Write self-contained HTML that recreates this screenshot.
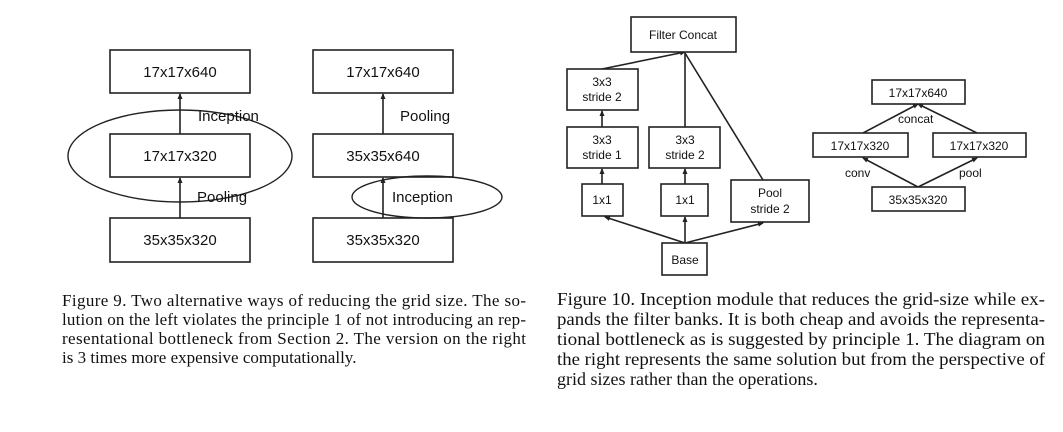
<!DOCTYPE html>
<html><head><meta charset="utf-8"><style>
body{margin:0;background:#fff;}
svg{display:block}
.s{font-family:"Liberation Sans",sans-serif;font-size:15px;fill:#111}
.m{font-family:"Liberation Sans",sans-serif;font-size:12px;fill:#111}
.c{font-family:"Liberation Serif",serif;font-size:17px;fill:#111}
.d{font-family:"Liberation Serif",serif;font-size:18px;fill:#111}
rect{fill:#fff;stroke:#222;stroke-width:1.6}
line{stroke:#222;stroke-width:1.6}
ellipse{fill:none;stroke:#222;stroke-width:1.4}
</style></head><body>
<svg width="1063" height="432" viewBox="0 0 1063 432">
<defs><marker id="a" markerWidth="6" markerHeight="6" refX="5" refY="3" orient="auto" markerUnits="userSpaceOnUse"><path d="M0,0.5 L6,3 L0,5.5z" fill="#222"/></marker></defs>
<rect x="110" y="50" width="140" height="43"/>
<rect x="110" y="134" width="140" height="43"/>
<rect x="110" y="218" width="140" height="44"/>
<line x1="180" y1="134" x2="180" y2="94" marker-end="url(#a)"/>
<line x1="180" y1="218" x2="180" y2="178" marker-end="url(#a)"/>
<ellipse cx="180" cy="156" rx="112" ry="46"/>
<text class="s" x="180" y="77" text-anchor="middle">17x17x640</text>
<text class="s" x="180" y="161" text-anchor="middle">17x17x320</text>
<text class="s" x="180" y="245" text-anchor="middle">35x35x320</text>
<text class="s" x="198" y="121">Inception</text>
<text class="s" x="197" y="202">Pooling</text>
<rect x="313" y="50" width="140" height="43"/>
<rect x="313" y="134" width="140" height="43"/>
<rect x="313" y="218" width="140" height="44"/>
<line x1="383" y1="134" x2="383" y2="94" marker-end="url(#a)"/>
<line x1="383" y1="218" x2="383" y2="178" marker-end="url(#a)"/>
<ellipse cx="427" cy="197" rx="75" ry="21"/>
<text class="s" x="383" y="77" text-anchor="middle">17x17x640</text>
<text class="s" x="383" y="161" text-anchor="middle">35x35x640</text>
<text class="s" x="383" y="245" text-anchor="middle">35x35x320</text>
<text class="s" x="400" y="121">Pooling</text>
<text class="s" x="392" y="202">Inception</text>
<line x1="602" y1="69" x2="685" y2="52" marker-end="url(#a)"/>
<line x1="685" y1="127" x2="685" y2="53"/>
<line x1="763" y1="180" x2="685" y2="53"/>
<line x1="602" y1="127" x2="602" y2="111" marker-end="url(#a)"/>
<line x1="602" y1="184" x2="602" y2="169" marker-end="url(#a)"/>
<line x1="685" y1="184" x2="685" y2="169" marker-end="url(#a)"/>
<line x1="685" y1="243" x2="605" y2="217" marker-end="url(#a)"/>
<line x1="685" y1="243" x2="685" y2="217" marker-end="url(#a)"/>
<line x1="685" y1="243" x2="763" y2="223" marker-end="url(#a)"/>
<rect x="631" y="17" width="105" height="35"/>
<rect x="567" y="69" width="71" height="41"/>
<rect x="567" y="127" width="71" height="41"/>
<rect x="649" y="127" width="71" height="41"/>
<rect x="582" y="184" width="41" height="32"/>
<rect x="661" y="184" width="47" height="32"/>
<rect x="731" y="180" width="78" height="42"/>
<rect x="662" y="243" width="45" height="32"/>
<text class="m" x="683" y="39" text-anchor="middle">Filter Concat</text>
<text class="m" x="602" y="86" text-anchor="middle">3x3</text>
<text class="m" x="602" y="101" text-anchor="middle">stride 2</text>
<text class="m" x="602" y="144" text-anchor="middle">3x3</text>
<text class="m" x="602" y="159" text-anchor="middle">stride 1</text>
<text class="m" x="685" y="144" text-anchor="middle">3x3</text>
<text class="m" x="685" y="159" text-anchor="middle">stride 2</text>
<text class="m" x="602" y="204" text-anchor="middle">1x1</text>
<text class="m" x="685" y="204" text-anchor="middle">1x1</text>
<text class="m" x="770" y="197" text-anchor="middle">Pool</text>
<text class="m" x="770" y="213" text-anchor="middle">stride 2</text>
<text class="m" x="685" y="264" text-anchor="middle">Base</text>
<line x1="863" y1="133" x2="918" y2="104" marker-end="url(#a)"/>
<line x1="977" y1="133" x2="918" y2="104" marker-end="url(#a)"/>
<line x1="918" y1="187" x2="863" y2="158" marker-end="url(#a)"/>
<line x1="918" y1="187" x2="977" y2="158" marker-end="url(#a)"/>
<rect x="872" y="80" width="93" height="24"/>
<rect x="813" y="133" width="95" height="24"/>
<rect x="933" y="133" width="93" height="24"/>
<rect x="872" y="187" width="93" height="24"/>
<text class="m" x="918" y="97" text-anchor="middle">17x17x640</text>
<text class="m" x="860" y="150" text-anchor="middle">17x17x320</text>
<text class="m" x="979" y="150" text-anchor="middle">17x17x320</text>
<text class="m" x="918" y="204" text-anchor="middle">35x35x320</text>
<text class="m" x="898" y="123">concat</text>
<text class="m" x="845" y="177">conv</text>
<text class="m" x="959" y="177">pool</text>
<text class="c" x="62" y="306" textLength="464" lengthAdjust="spacing">Figure 9. Two alternative ways of reducing the grid size. The so-</text>
<text class="c" x="62" y="325" textLength="464" lengthAdjust="spacing">lution on the left violates the principle 1 of not introducing an rep-</text>
<text class="c" x="62" y="344" textLength="464" lengthAdjust="spacing">resentational bottleneck from Section 2. The version on the right</text>
<text class="c" x="62" y="363">is 3 times more expensive computationally.</text>
<text class="d" x="557" y="305" textLength="488" lengthAdjust="spacingAndGlyphs">Figure 10. Inception module that reduces the grid-size while ex-</text>
<text class="d" x="557" y="325" textLength="488" lengthAdjust="spacingAndGlyphs">pands the filter banks. It is both cheap and avoids the representa-</text>
<text class="d" x="557" y="345" textLength="488" lengthAdjust="spacingAndGlyphs">tional bottleneck as is suggested by principle 1. The diagram on</text>
<text class="d" x="557" y="365" textLength="488" lengthAdjust="spacingAndGlyphs">the right represents the same solution but from the perspective of</text>
<text class="d" x="557" y="385">grid sizes rather than the operations.</text>
</svg>
</body></html>
